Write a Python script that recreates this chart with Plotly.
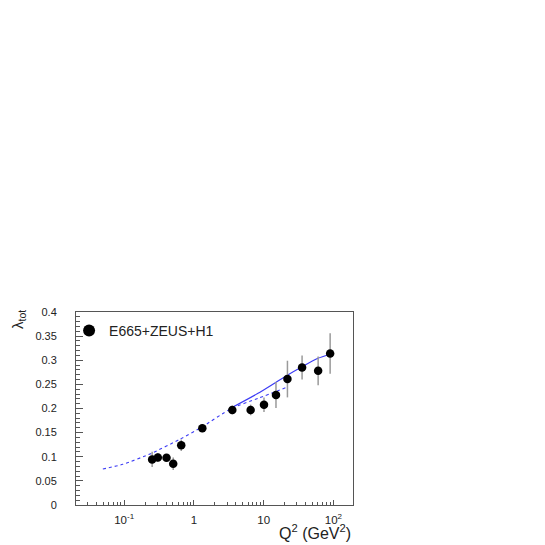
import plotly.graph_objects as go

# Data points (E665+ZEUS+H1)
q2 = [0.252, 0.304, 0.405, 0.505, 0.658, 1.32, 3.55, 6.5, 10.1, 15.0, 21.9, 35.5, 60.3, 89.6]
lam = [0.0945, 0.0986, 0.098, 0.0855, 0.124, 0.159, 0.197, 0.197, 0.208, 0.228, 0.261, 0.285, 0.278, 0.314]
lam_err = [0.016, 0.009, 0.005, 0.013, 0.012, 0.008, 0.009, 0.011, 0.015, 0.027, 0.038, 0.025, 0.030, 0.042]

# Dashed model curve
dash_q2 = [0.0495, 0.0957, 0.245, 0.624, 1.28, 3.44, 8.3, 22.3]
dash_lam = [0.0746, 0.0843, 0.107, 0.136, 0.161, 0.200, 0.221, 0.245]

# Solid model curve
solid_q2 = [3.4, 8.3, 21.2, 34.0, 60.0, 91.0]
solid_lam = [0.201, 0.2315, 0.268, 0.285, 0.304, 0.313]

x_major = [0.1, 1, 10, 100]
x_major_text = ["10<sup>-1</sup>", "1", "10", "10<sup>2</sup>"]
y_ticks = [0, 0.05, 0.1, 0.15, 0.2, 0.25, 0.3, 0.35, 0.4]
y_ticktext = ["0", "0.05", "0.1", "0.15", "0.2", "0.25", "0.3", "0.35", "0.4"]
x_minor = [m * 10 ** e for e in (-2, -1, 0, 1, 2) for m in range(2, 10)]

LINE_BLUE = "rgb(60,60,245)"
AX = "#555555"
FONT = "Liberation Sans, Arial, sans-serif"

fig = go.Figure()

fig.add_trace(go.Scatter(
    x=dash_q2, y=dash_lam, mode="lines",
    line=dict(color=LINE_BLUE, width=1.1, dash="3px,3px", shape="spline", smoothing=0.6),
    showlegend=False, hoverinfo="skip"))

fig.add_trace(go.Scatter(
    x=solid_q2, y=solid_lam, mode="lines",
    line=dict(color=LINE_BLUE, width=1.2, shape="spline", smoothing=0.6),
    showlegend=False, hoverinfo="skip"))

fig.add_trace(go.Scatter(
    x=q2, y=lam, mode="markers",
    marker=dict(color="black", size=8.5, symbol="circle"),
    error_y=dict(type="data", array=lam_err, visible=True, color="#9a9a9a", thickness=1.5, width=0),
    showlegend=False))

# legend entry
fig.add_trace(go.Scatter(
    x=[None], y=[None], mode="markers",
    marker=dict(color="black", size=12, symbol="circle"),
    name="E665+ZEUS+H1", showlegend=True))

# minor ticks axis for log x
fig.add_trace(go.Scatter(x=[None], y=[None], xaxis="x2", showlegend=False, hoverinfo="skip"))

fig.update_layout(
    width=537, height=537,
    margin=dict(l=68, r=192, t=304, b=40),
    paper_bgcolor="white", plot_bgcolor="white",
    font=dict(family=FONT, color="#222222", size=11),
    xaxis=dict(
        type="log", range=[-1.69, 2.28],
        tickmode="array", tickvals=x_major, ticktext=x_major_text,
        ticks="inside", ticklen=5, tickcolor=AX, tickwidth=1,
        showline=True, linecolor=AX, linewidth=1, mirror=True,
        showgrid=False, zeroline=False,
        tickfont=dict(size=11.5, family=FONT, color="#222222"),
        ticklabelstandoff=4,
    ),
    xaxis2=dict(
        type="log", range=[-1.69, 2.28], overlaying="x", anchor="y", side="bottom",
        tickmode="array", tickvals=x_minor, ticks="inside", ticklen=3,
        tickcolor=AX, tickwidth=1, showticklabels=False,
        showgrid=False, zeroline=False, showline=False,
    ),
    yaxis=dict(
        range=[0, 0.4],
        tickmode="array", tickvals=y_ticks, ticktext=y_ticktext,
        ticks="inside", ticklen=7, tickcolor=AX, tickwidth=1,
        minor=dict(dtick=0.01, ticks="inside", ticklen=4, tickcolor=AX, showgrid=False),
        showline=True, linecolor=AX, linewidth=1, mirror=True,
        showgrid=False, zeroline=False,
        tickfont=dict(size=11, family=FONT, color="#222222"),
        ticklabelstandoff=16,
    ),
    legend=dict(
        x=-0.025, y=0.985, xanchor="left", yanchor="top",
        bgcolor="rgba(0,0,0,0)", borderwidth=0,
        font=dict(size=14, family=FONT, color="#222222"),
    ),
    annotations=[
        dict(text="Q<sup>2</sup> (GeV<sup>2</sup>)", xref="paper", yref="paper",
             x=1.0, y=0, xanchor="right", yanchor="top", yshift=-15,
             showarrow=False, font=dict(size=16, family=FONT, color="#222222")),
        dict(text="λ<sub>tot</sub>", xref="paper", yref="paper",
             x=0, y=1.0, xanchor="center", yanchor="middle", xshift=-58, yshift=-8,
             textangle=-90, showarrow=False,
             font=dict(size=15, family=FONT, color="#222222")),
    ],
)

fig.write_html("out.html")
